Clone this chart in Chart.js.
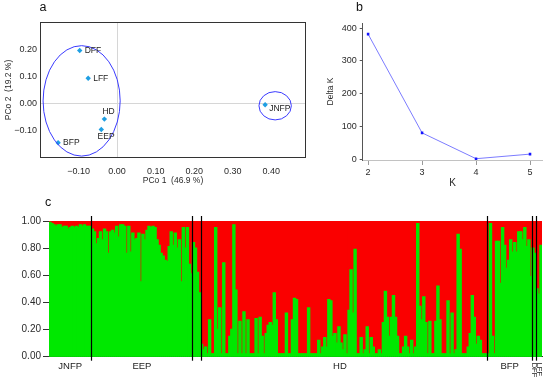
<!DOCTYPE html>
<html><head><meta charset="utf-8">
<script src="https://cdn.jsdelivr.net/npm/chart.js@4.4.1/dist/chart.umd.min.js"></script>
<style>
html,body{margin:0;padding:0;background:#fff;width:550px;height:386px;overflow:hidden}
.box{position:absolute}
canvas{display:block}
</style></head><body>
<div class="box" style="left:0;top:0"><canvas id="ca" width="320" height="195"></canvas></div>
<div class="box" style="left:320px;top:0"><canvas id="cb" width="230" height="195"></canvas></div>
<div class="box" style="left:0;top:195px"><canvas id="cc" width="550" height="191"></canvas></div>
<script>
// ---------------- DATA ----------------
// (a) PCoA
const pcoaPops = ['DFF', 'LFF', 'HD', 'EEP', 'BFP', 'JNFP'];
const pco1 = [-0.097, -0.075, -0.033, -0.041, -0.153, 0.384];
const pco2 = [0.195, 0.093, -0.057, -0.095, -0.144, -0.004];
const pco1Ticks = [-0.1, 0, 0.1, 0.2, 0.3, 0.4];
const pco2Ticks = [-0.1, 0, 0.1, 0.2];
// cluster envelopes (data units)
const clusterCx = [-0.092, 0.410];
const clusterCy = [0.010, -0.008];
const clusterRx = [0.100, 0.042];
const clusterRy = [0.203, 0.052];

// (b) Delta K
const kValues = [2, 3, 4, 5];
const deltaK = [382, 80, 1, 15];
const deltaKTicks = [0, 100, 200, 300, 400];

// (c) STRUCTURE K=2 membership (green cluster)
const structPops = ['JNFP', 'EEP', 'HD', 'BFP', 'DFF', 'LFF'];
const qJNFP = [0.99,0.98,0.97,0.96,0.97,0.97,0.95,0.96,0.96,0.94,0.95,0.96,0.95,0.96,0.95,0.97,0.96,0.97,0.96,0.96,0.96];
const qEEP = [0.94,0.92,0.83,0.87,0.92,0.86,0.94,0.92,0.76,0.92,0.93,0.91,0.96,0.88,0.97,0.97,0.96,0.76,0.96,0.77,
  0.91,0.86,0.87,0.91,0.55,0.90,0.86,0.93,0.96,0.95,0.96,0.95,0.86,0.82,0.76,0.74,0.71,0.70,0.81,0.92,
  0.82,0.91,0.80,0.86,0.55,0.95,0.80,0.95,0.68,0.61];
const qHD = [0.84,0.80,0.62,0.47,
  0.09,0.05,0.07,0.02,0.27,0.02,0.02,0.95,0.20,0.36,0.02,0.69,0.02,0.02,0.15,0.20,0.97,0.49,0.02,0.26,0.02,
  0.33,0.02,0.27,0.02,0.02,0.02,0.28,0.02,0.29,0.15,0.02,0.17,0.23,0.25,
  0.23,0.47,0.27,0.02,0.02,0.02,0.02,0.32,0.02,0.02,0.27,0.43,0.42,0.02,0.02,0.02,0.02,0.02,0.36,0.02,0.02,
  0.02,0.02,0.12,0.02,0.07,0.14,0.07,0.42,0.41,0.15,0.17,0.10,0.22,0.10,0.05,0.16,0.02,0.34,0.64,0.32,
  0.79,0.02,0.02,0.14,0.02,0.05,0.22,0.02,0.14,0.07,0.02,0.02,0.05,0.02,0.25,0.48,0.29,0.15,0.29,0.45,
  0.29,0.15,0.02,0.02,0.07,0.15,0.07,0.02,0.12,0.02,0.07,0.98,0.37,0.27,0.44,0.25,0.02,0.26,0.02,0.02,
  0.26,0.52,0.27,0.02,0.02,0.02,0.41,0.02,0.32,0.02,0.05,0.90,0.79,0.02,0.02,0.02,0.07,0.17,0.45,0.29,
  0.09,0.15,0.12,0.02,0.02,0.02];
const qBFP = [0.02,0.98,0.15,0.02,0.85,0.85,0.54,0.95,0.82,0.65,0.71,0.86,0.77,0.84,0.77,0.92,0.92,0.86,0.95,0.81,0.86,0.59];
const qDFF = [0.80,0.76];
const qLFF = [0.50,0.46,0.82];
const qTicks = [0, 0.2, 0.4, 0.6, 0.8, 1.0];
// extra divider inside HD (after its first 4 individuals)
const extraDividerAfter = [4];

// ---------------- STYLE ----------------
const FONT = "'Liberation Sans', Arial, Helvetica, sans-serif";
Chart.defaults.font.family = FONT;
Chart.defaults.color = '#2a2a2a';
const labelPlacement = ['right', 'right', 'above', 'below', 'right', 'rightLow'];
const placeOffsets = { right: [5, 0], above: [-2, -7.3], below: [-3.7, 7.4], rightLow: [4, 4.3] };

const fmtSigned = v => (v < 0 ? '\u2212' : '') + Math.abs(v).toFixed(2);

const panelLabelPlugin = {
  id: 'panelLabel',
  afterDraw(chart, args, opts) {
    const ctx = chart.ctx;
    ctx.save();
    ctx.font = '12.5px ' + FONT;
    ctx.fillStyle = '#111';
    ctx.textAlign = 'center';
    ctx.textBaseline = 'middle';
    ctx.fillText(opts.text, opts.x, opts.y);
    ctx.restore();
  }
};

const framePlugin = {
  id: 'frame',
  afterDraw(chart) {
    const { ctx, chartArea: a } = chart;
    ctx.save();
    ctx.strokeStyle = '#333';
    ctx.lineWidth = 1;
    ctx.strokeRect(a.left + 0.5, a.top + 0.5, a.right - a.left - 1, a.bottom - a.top - 1);
    ctx.restore();
  }
};

const ellipsePlugin = {
  id: 'ellipses',
  afterDatasetsDraw(chart) {
    const { ctx, scales: { x, y } } = chart;
    ctx.save();
    ctx.strokeStyle = '#3a3aff';
    ctx.lineWidth = 1;
    clusterCx.forEach((cxv, i) => {
      const cx = x.getPixelForValue(cxv), cy = y.getPixelForValue(clusterCy[i]);
      const rx = Math.abs(x.getPixelForValue(cxv + clusterRx[i]) - cx);
      const ry = Math.abs(y.getPixelForValue(clusterCy[i] + clusterRy[i]) - cy);
      ctx.beginPath();
      ctx.ellipse(cx, cy, rx, ry, 0, 0, Math.PI * 2);
      ctx.stroke();
    });
    ctx.restore();
  }
};

const pointLabelPlugin = {
  id: 'pointLabels',
  afterDatasetsDraw(chart) {
    const ctx = chart.ctx;
    const meta = chart.getDatasetMeta(0);
    ctx.save();
    ctx.font = '8.5px ' + FONT;
    ctx.fillStyle = '#222';
    ctx.textAlign = 'left';
    ctx.textBaseline = 'middle';
    meta.data.forEach((pt, i) => {
      const off = placeOffsets[labelPlacement[i]];
      ctx.fillText(pcoaPops[i], pt.x + off[0], pt.y + off[1]);
    });
    ctx.restore();
  }
};

// ---------------- CHART A ----------------
new Chart(document.getElementById('ca'), {
  type: 'scatter',
  data: {
    datasets: [{
      data: pco1.map((v, i) => ({ x: v, y: pco2[i] })),
      pointStyle: 'rectRot', pointRadius: 2.7,
      backgroundColor: '#1f9fe3', borderColor: '#1f9fe3', borderWidth: 0
    }]
  },
  options: {
    responsive: false, animation: false,
    layout: { padding: { left: 0, top: 22, right: 14, bottom: 0 } },
    plugins: { legend: { display: false }, tooltip: { enabled: false },
      panelLabel: { text: 'a', x: 43, y: 8 } },
    scales: {
      x: {
        type: 'linear', min: -0.2, max: 0.49,
        afterBuildTicks: s => { s.ticks = pco1Ticks.map(v => ({ value: v })); },
        afterFit: s => { s.height = 37; },
        ticks: { font: { size: 9 }, padding: 8, maxRotation: 0, callback: v => fmtSigned(v) },
        grid: { drawTicks: false, color: c => (c.tick && c.tick.value === 0) ? '#d6d6d6' : 'rgba(0,0,0,0)' },
        border: { display: false },
        title: { display: true, text: 'PCo 1  (46.9 %)', font: { size: 8.5 }, padding: { top: 0, bottom: 9 } }
      },
      y: {
        type: 'linear', min: -0.2, max: 0.3,
        afterBuildTicks: s => { s.ticks = pco2Ticks.map(v => ({ value: v })); },
        afterFit: s => { s.width = 40; },
        ticks: { font: { size: 9 }, padding: 3, callback: v => fmtSigned(v) },
        grid: { drawTicks: false, color: c => (c.tick && c.tick.value === 0) ? '#d6d6d6' : 'rgba(0,0,0,0)' },
        border: { display: false },
        title: { display: true, text: 'PCo 2  (19.2 %)', font: { size: 8.5 }, padding: { top: 4, bottom: 0 } }
      }
    }
  },
  plugins: [framePlugin, ellipsePlugin, pointLabelPlugin, panelLabelPlugin]
});

// ---------------- CHART B ----------------
new Chart(document.getElementById('cb'), {
  type: 'line',
  data: {
    datasets: [{
      data: kValues.map((k, i) => ({ x: k, y: deltaK[i] })),
      borderColor: '#7c7cff', borderWidth: 1, tension: 0, fill: false,
      pointStyle: 'rect', pointRadius: 1.8,
      pointBackgroundColor: '#1414ff', pointBorderColor: '#1414ff', pointBorderWidth: 0
    }]
  },
  options: {
    responsive: false, animation: false,
    layout: { padding: { left: 0, top: 23, right: 7.3, bottom: 0 } },
    plugins: { legend: { display: false }, tooltip: { enabled: false },
      panelLabel: { text: 'b', x: 39.5, y: 8 } },
    scales: {
      x: {
        type: 'linear', min: 1.9, max: 5.235,
        afterBuildTicks: s => { s.ticks = kValues.map(v => ({ value: v })); },
        afterFit: s => { s.height = 35; },
        ticks: { font: { size: 9 }, padding: 2, maxRotation: 0, callback: v => String(v) },
        grid: { drawOnChartArea: false, drawTicks: true, tickLength: 5, tickColor: '#9a9a9a' },
        border: { color: '#c2c2c2' },
        title: { display: true, text: 'K', font: { size: 10 }, padding: { top: 0, bottom: 6 } }
      },
      y: {
        type: 'linear', min: -3, max: 416,
        afterBuildTicks: s => { s.ticks = deltaKTicks.map(v => ({ value: v })); },
        afterFit: s => { s.width = 42.7; },
        ticks: { font: { size: 9 }, padding: 3, callback: v => String(v) },
        grid: { drawOnChartArea: false, drawTicks: true, tickLength: 3, tickColor: '#555' },
        border: { color: '#555' },
        title: { display: true, text: 'Delta K', font: { size: 8.5 }, padding: { top: 6, bottom: 0 } }
      }
    }
  },
  plugins: [panelLabelPlugin]
});

// ---------------- CHART C ----------------
const popArrays = [qJNFP, qEEP, qHD, qBFP, qDFF, qLFF];
const qAll = [].concat(...popArrays);
const popStart = [];
{ let s = 0; popArrays.forEach(a => { popStart.push(s); s += a.length; }); }

const dividerPlugin = {
  id: 'dividers',
  afterDatasetsDraw(chart) {
    const { ctx, chartArea: a, scales: { x } } = chart;
    const bounds = popStart.slice(1).concat(extraDividerAfter.map(n => popStart[2] + n));
    ctx.save();
    ctx.strokeStyle = '#000';
    ctx.lineWidth = 1.2;
    bounds.forEach(b => {
      const px = Math.round(x.getPixelForValue(b - 0.5)) + 0.5;
      ctx.beginPath();
      ctx.moveTo(px, a.top - 5);
      ctx.lineTo(px, a.bottom + 4);
      ctx.stroke();
    });
    // population labels
    ctx.fillStyle = '#222';
    structPops.forEach((name, i) => {
      const n = popArrays[i].length;
      const px = x.getPixelForValue(popStart[i] + (n - 1) / 2);
      if (n < 5) {
        ctx.save();
        ctx.font = '7.5px ' + FONT;
        ctx.translate(px, a.bottom + 6);
        ctx.rotate(Math.PI / 2);
        ctx.textAlign = 'left';
        ctx.textBaseline = 'middle';
        ctx.fillText(name, 0, 0);
        ctx.restore();
      } else {
        ctx.font = '9.5px ' + FONT;
        ctx.textAlign = 'center';
        ctx.textBaseline = 'middle';
        ctx.fillText(name, px, a.bottom + 9.3);
      }
    });
    ctx.restore();
  }
};

new Chart(document.getElementById('cc'), {
  type: 'bar',
  data: {
    labels: qAll.map((_, i) => String(i + 1)),
    datasets: [
      { data: qAll, backgroundColor: 'rgb(0,232,0)', borderWidth: 0, inflateAmount: 0.7,
        barPercentage: 1, categoryPercentage: 1, grouped: false },
      { data: qAll.map(v => [v, 1]), backgroundColor: 'rgb(250,0,0)', borderWidth: 0, inflateAmount: 0.7,
        barPercentage: 1, categoryPercentage: 1, grouped: false }
    ]
  },
  options: {
    responsive: false, animation: false,
    layout: { padding: { left: 0, top: 26, right: 8, bottom: 0 } },
    plugins: { legend: { display: false }, tooltip: { enabled: false },
      panelLabel: { text: 'c', x: 48, y: 7.7 } },
    scales: {
      x: {
        z: 1,
        ticks: { display: false },
        grid: { display: false },
        border: { color: '#333' },
        afterFit: s => { s.height = 29.3; }
      },
      y: {
        z: 1, min: 0, max: 1,
        afterBuildTicks: s => { s.ticks = qTicks.map(v => ({ value: v })); },
        afterFit: s => { s.width = 49; },
        ticks: { font: { size: 10 }, padding: 2, callback: v => v.toFixed(2) },
        grid: { drawOnChartArea: false, drawTicks: true, tickLength: 6, tickColor: '#333' },
        border: { color: '#333' }
      }
    }
  },
  plugins: [dividerPlugin, panelLabelPlugin]
});
</script>
</body></html>
